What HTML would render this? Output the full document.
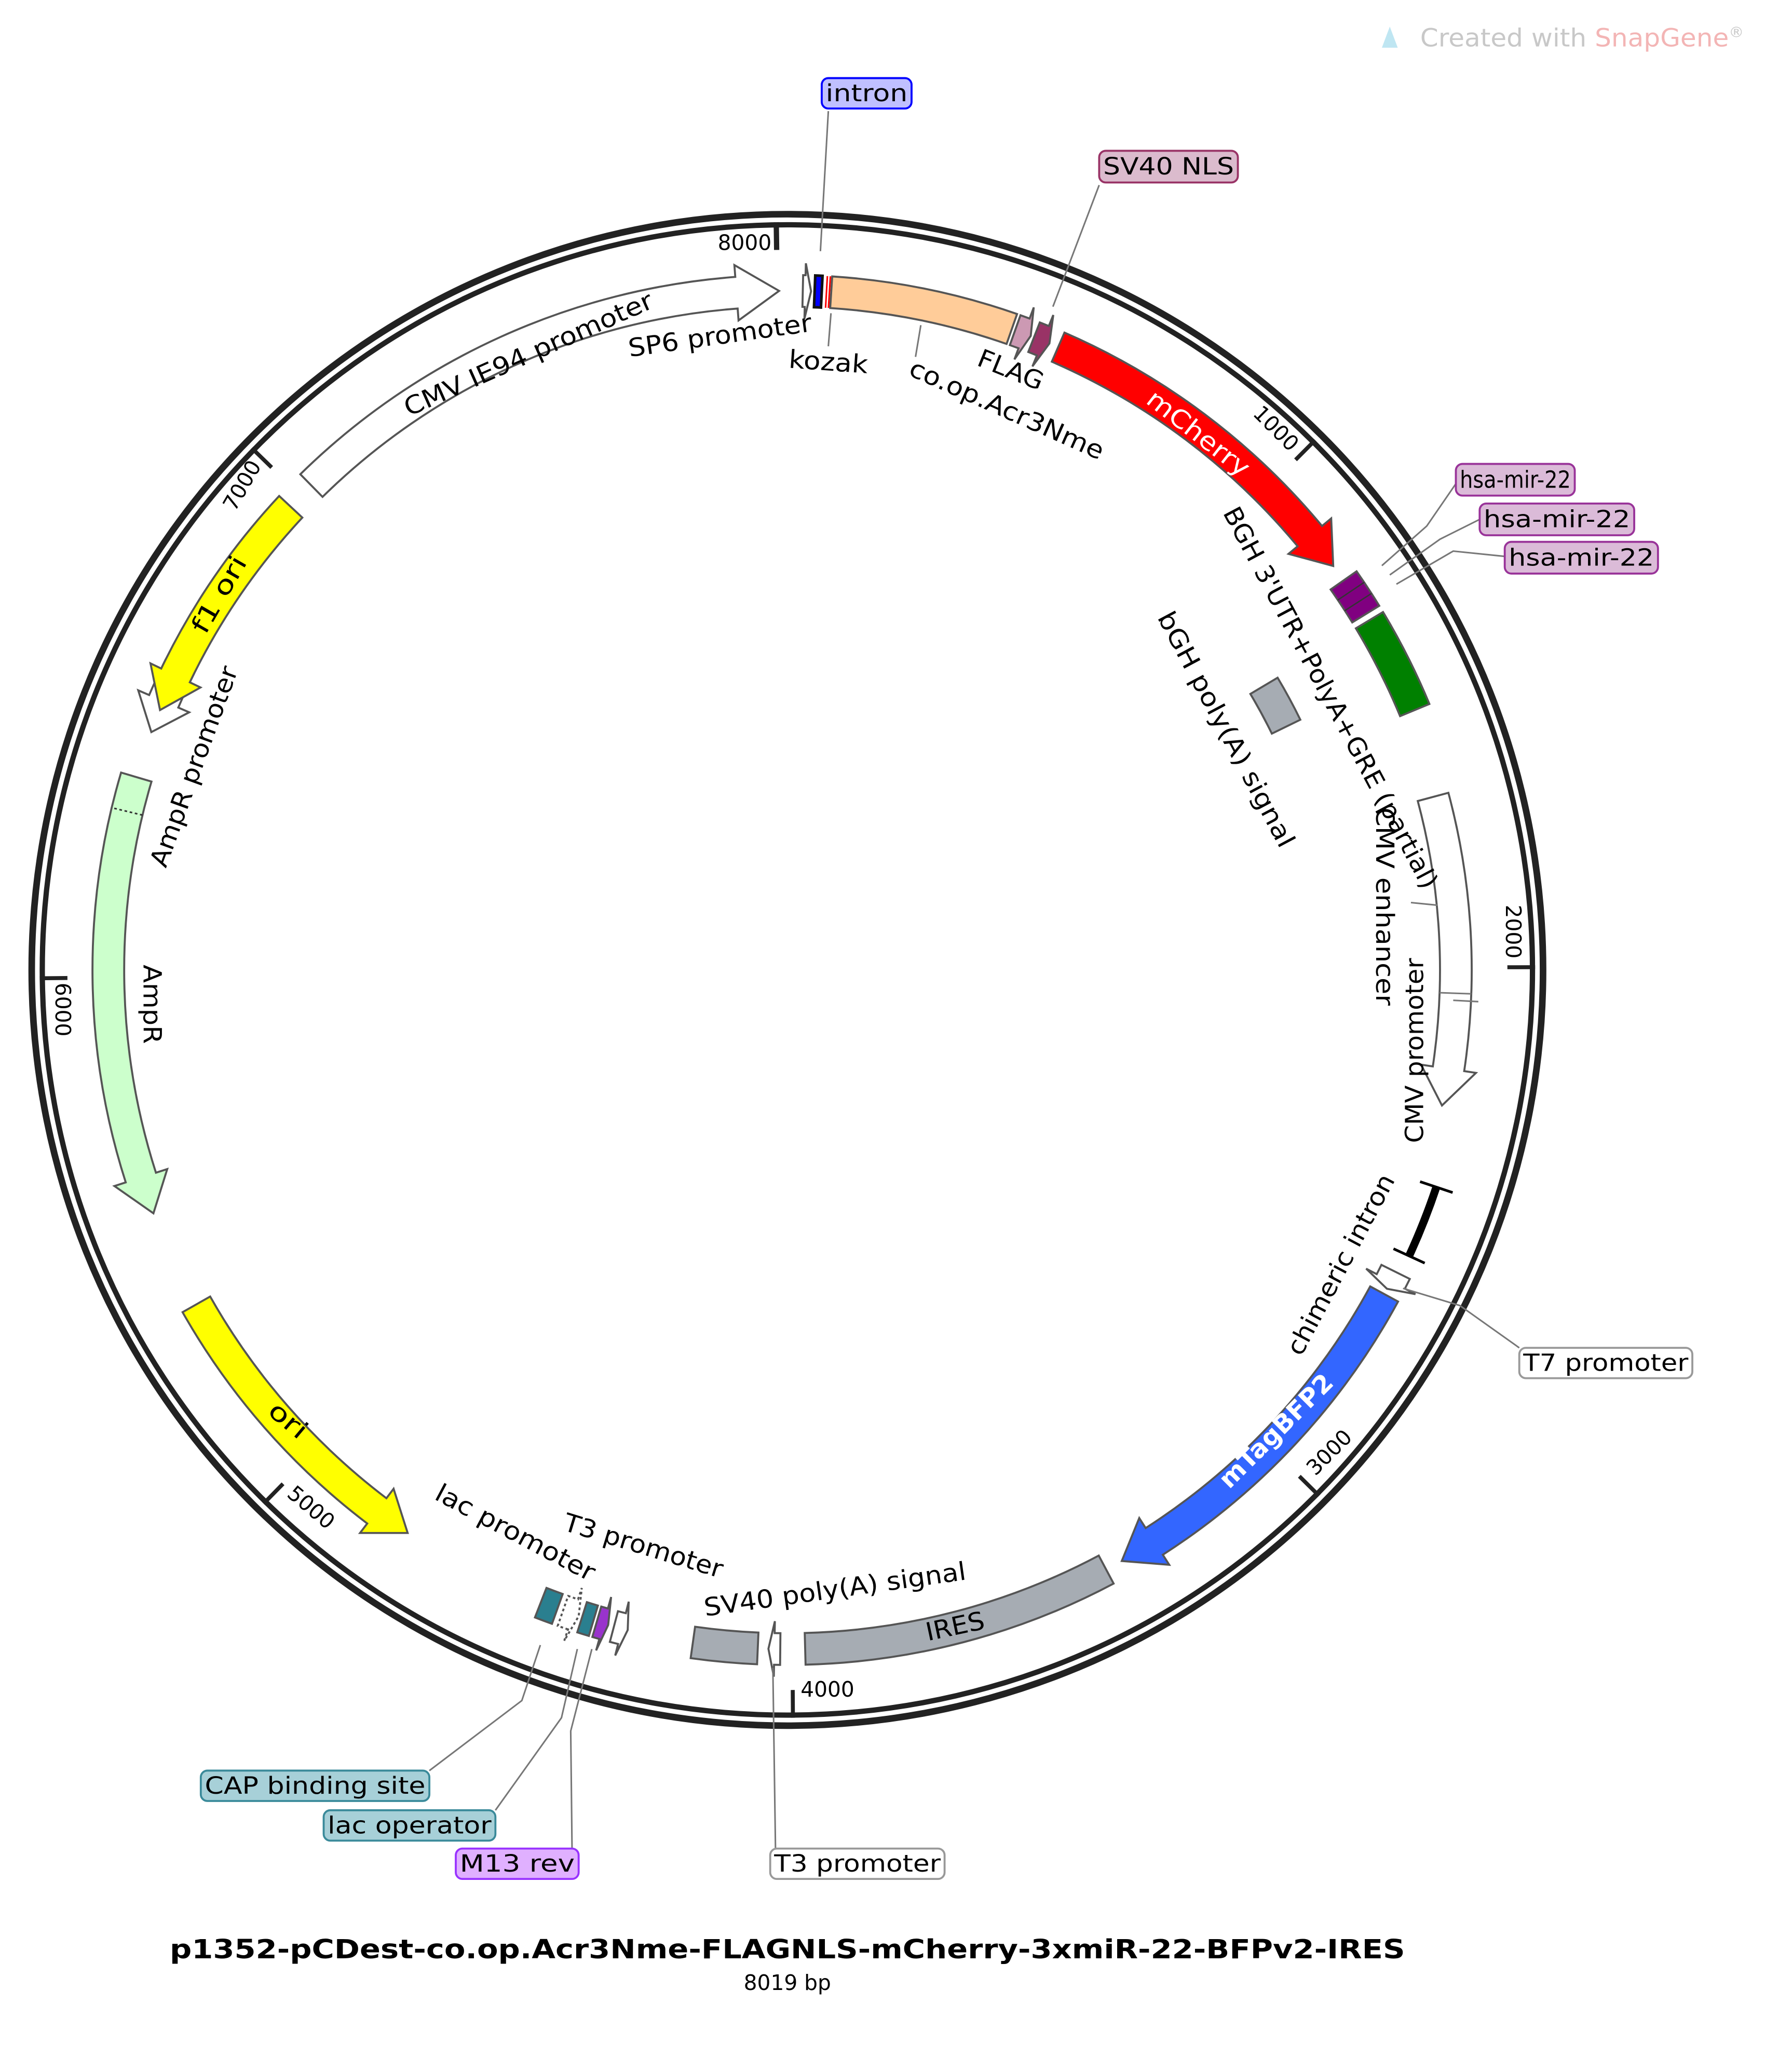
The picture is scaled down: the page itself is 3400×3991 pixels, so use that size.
<!DOCTYPE html>
<html><head><meta charset="utf-8"><style>
html,body{margin:0;padding:0;background:#fff;width:3400px;height:3991px;overflow:hidden}
svg{display:block}
text{font-family:"DejaVu Sans","Liberation Sans",sans-serif}
</style></head><body>
<svg id="s" xmlns="http://www.w3.org/2000/svg" width="3400" height="3991" viewBox="0 0 1336 1568">
<rect width="1336" height="1568" fill="#fff"/>
<g id="ring"></g>
<g id="feat"></g>
<g id="lines" stroke="#777" stroke-width="1.2" fill="none">
<polyline points="627,84 621,190"/>
<polyline points="832,140 797,232"/>
<polyline points="1102,366 1080,398 1046,428"/>
<polyline points="1120,393 1090,408 1052,435"/>
<polyline points="1139,421 1100,417 1057,442"/>
<polyline points="1150,1020 1105,988 1062,975"/>
<polyline points="587,1399 585,1262"/>
<polyline points="325,1340 395,1287 409,1245"/>
<polyline points="375,1370 425,1300 437,1248"/>
<polyline points="433,1399 432,1310 448,1248"/>
<polyline points="629,237 627,262"/>
<polyline points="697,246 693,270"/>
<polyline points="1068,683 1088,685"/>
<polyline points="1100,757 1119,758"/>
</g>
<g id="boxes" font-size="18"></g>
<g id="labels" font-size="19" fill="#000" lengthAdjust="spacingAndGlyphs">
<text x="400" y="268" transform="rotate(-24 400 268)" text-anchor="middle" dominant-baseline="central" textLength="204" lengthAdjust="spacingAndGlyphs">CMV IE94 promoter</text>
<text x="545" y="254" transform="rotate(-8 545 254)" text-anchor="middle" dominant-baseline="central" textLength="140" lengthAdjust="spacingAndGlyphs">SP6 promoter</text>
<text x="627" y="274" transform="rotate(4 627 274)" text-anchor="middle" dominant-baseline="central" textLength="60" lengthAdjust="spacingAndGlyphs">kozak</text>
<text x="765" y="280" transform="rotate(22 765 280)" text-anchor="middle" dominant-baseline="central" textLength="52" lengthAdjust="spacingAndGlyphs">FLAG</text>
<text x="762" y="310" transform="rotate(24 762 310)" text-anchor="middle" dominant-baseline="central" textLength="159" lengthAdjust="spacingAndGlyphs">co.op.Acr3Nme</text>
<text x="907" y="328" transform="rotate(38 907 328)" text-anchor="middle" dominant-baseline="central" fill="#fff" textLength="93" lengthAdjust="spacingAndGlyphs">mCherry</text>
<text x="1007" y="528" transform="rotate(62 1007 528)" text-anchor="middle" dominant-baseline="central" textLength="324" lengthAdjust="spacingAndGlyphs">BGH 3'UTR+PolyA+GRE (partial)</text>
<text x="928" y="552" transform="rotate(62 928 552)" text-anchor="middle" dominant-baseline="central" textLength="199" lengthAdjust="spacingAndGlyphs">bGH poly(A) signal</text>
<text x="1048" y="686" transform="rotate(90 1048 686)" text-anchor="middle" dominant-baseline="central" textLength="150" lengthAdjust="spacingAndGlyphs">CMV enhancer</text>
<text x="1071" y="795" transform="rotate(-90 1071 795)" text-anchor="middle" dominant-baseline="central" textLength="140" lengthAdjust="spacingAndGlyphs">CMV promoter</text>
<text x="1015" y="957" transform="rotate(-62 1015 957)" text-anchor="middle" dominant-baseline="central" textLength="152" lengthAdjust="spacingAndGlyphs">chimeric intron</text>
<text x="966" y="1083" transform="rotate(-45 966 1083)" text-anchor="middle" dominant-baseline="central" fill="#fff" font-weight="bold" textLength="113" lengthAdjust="spacingAndGlyphs">mTagBFP2</text>
<text x="723" y="1231" transform="rotate(-12 723 1231)" text-anchor="middle" dominant-baseline="central" textLength="45" lengthAdjust="spacingAndGlyphs">IRES</text>
<text x="632" y="1203" transform="rotate(-8 632 1203)" text-anchor="middle" dominant-baseline="central" textLength="200" lengthAdjust="spacingAndGlyphs">SV40 poly(A) signal</text>
<text x="487" y="1170" transform="rotate(17 487 1170)" text-anchor="middle" dominant-baseline="central" textLength="125" lengthAdjust="spacingAndGlyphs">T3 promoter</text>
<text x="390" y="1160" transform="rotate(28 390 1160)" text-anchor="middle" dominant-baseline="central" textLength="134" lengthAdjust="spacingAndGlyphs">lac promoter</text>
<text x="218" y="1075" transform="rotate(40 218 1075)" text-anchor="middle" dominant-baseline="central" textLength="32" lengthAdjust="spacingAndGlyphs">ori</text>
<text x="115" y="760" transform="rotate(90 115 760)" text-anchor="middle" dominant-baseline="central" textLength="60" lengthAdjust="spacingAndGlyphs">AmpR</text>
<text x="147" y="580" transform="rotate(-70 147 580)" text-anchor="middle" dominant-baseline="central" textLength="160" lengthAdjust="spacingAndGlyphs">AmpR promoter</text>
<text x="166" y="450" transform="rotate(-60 166 450)" text-anchor="middle" dominant-baseline="central" textLength="64" lengthAdjust="spacingAndGlyphs">f1 ori</text>
</g>
<g id="ticks" font-size="16" fill="#000">
<text x="584" y="189" text-anchor="end">8000</text>
<text x="962" y="328" transform="rotate(45 962 328)" text-anchor="middle">1000</text>
<text x="1140" y="705" transform="rotate(90 1140 705)" text-anchor="middle">2000</text>
<text x="1010" y="1103" transform="rotate(-45 1010 1103)" text-anchor="middle">3000</text>
<text x="606" y="1284" text-anchor="start">4000</text>
<text x="232" y="1145" transform="rotate(40 232 1145)" text-anchor="middle">5000</text>
<text x="42" y="764" transform="rotate(90 42 764)" text-anchor="middle">6000</text>
<text x="188" y="370" transform="rotate(-60 188 370)" text-anchor="middle">7000</text>
</g>
<text x="596" y="1482" text-anchor="middle" font-size="20" font-weight="bold" textLength="935" lengthAdjust="spacingAndGlyphs">p1352-pCDest-co.op.Acr3Nme-FLAGNLS-mCherry-3xmiR-22-BFPv2-IRES</text>
<text x="596" y="1506" text-anchor="middle" font-size="16">8019 bp</text>
<path d="M1046,36 L1052,20 L1058,36 Z" fill="#bfe6f2"/>
<text x="1075" y="35" font-size="19" fill="#c8c8c8" textLength="245" lengthAdjust="spacingAndGlyphs">Created with <tspan fill="#f3b5b5">SnapGene</tspan><tspan font-size="11" dy="-7">®</tspan></text>
</svg>
<script>
(function(){
var NS="http://www.w3.org/2000/svg";
var C={x:596,y:734};
function P(r,a){var t=a*Math.PI/180;return (C.x+r*Math.sin(t)).toFixed(2)+","+(C.y-r*Math.cos(t)).toFixed(2);}
function el(parent,tag,attrs){var e=document.createElementNS(NS,tag);for(var k in attrs)e.setAttribute(k,attrs[k]);document.getElementById(parent).appendChild(e);return e;}
function arc(r,a1,a2){var s=a2>a1?1:0,l=Math.abs(a2-a1)>180?1:0;return " A"+r+","+r+" 0 "+l+" "+s+" "+P(r,a2);}
function band(a1,a2,r1,r2,fill,dir,head,extra){
  head=head||3; var b1=a1,b2=a2,m=(r1+r2)/2,w=9;
  if(dir==="cw")b2=a2-head; if(dir==="ccw")b1=a1+head;
  var d="M"+P(r2,b1)+arc(r2,b1,b2);
  if(dir==="cw") d+=" L"+P(r2+w,b2)+" L"+P(m,a2)+" L"+P(r1-w,b2)+" L"+P(r1,b2);
  else d+=" L"+P(r1,b2);
  d+=arc(r1,b2,b1);
  if(dir==="ccw") d+=" L"+P(r1-w,b1)+" L"+P(m,a1)+" L"+P(r2+w,b1);
  d+=" Z";
  var a={d:d,fill:fill,stroke:"#555","stroke-width":1.5,"stroke-linejoin":"miter"};
  if(extra)for(var k in extra)a[k]=extra[k];
  el("feat","path",a);
}
function line(g,p1,p2,st,sw,dash){var a={d:"M"+p1+" L"+p2,stroke:st,"stroke-width":sw,fill:"none"};if(dash)a["stroke-dasharray"]=dash;el(g,"path",a);}
el("ring","circle",{cx:C.x,cy:C.y,r:572,fill:"none",stroke:"#222","stroke-width":5});
el("ring","circle",{cx:C.x,cy:C.y,r:564,fill:"none",stroke:"#222","stroke-width":4});
for(var i=1;i<=8;i++){var a=i*1000/8019*360;line("ring",P(566,a),P(545,a),"#222",i==8?4:3);}
var R1=502,R2=526;
band(315.5,359.3,R1,R2,"#fff","cw",3.6);
band(1.3,2.0,R1,R2,"#fff","cw",0.5);
band(2.3,2.9,R1,R2,"#0000ff",null,0,{stroke:"#111","stroke-width":2});
line("feat",P(R1,3.3),P(R2,3.3),"#f00",1.2);line("feat",P(R1,3.55),P(R2,3.55),"#f00",1.2);
band(3.7,19.3,R1,R2,"#ffcc99",null);
band(19.6,21.0,R1,R2,"#cc99b3","cw",0.6);
band(21.3,22.7,R1,R2,"#993366","cw",0.6);
band(23.5,53.5,R1,R2,"#ff0000","cw",3.2);
band(55.0,58.4,R1,R2,"#800080",null);
line("feat",P(R1,56.1),P(R2,56.1),"#333",1);line("feat",P(R1,57.2),P(R2,57.2),"#333",1);
band(59.0,67.5,R1,R2,"#008000",null);
band(59.2,64.0,408,432,"#a6acb3",null);
band(75,101.7,494,518,"#fff","cw",3.2);
line("feat",P(494,92),P(518,92),"#777",1.2);
el("feat","path",{d:"M"+P(518,108.5)+arc(518,108.5,114.7),stroke:"#000","stroke-width":6,fill:"none"});
line("feat",P(505,108.5),P(531,108.5),"#000",2);line("feat",P(505,114.7),P(531,114.7),"#000",2);
band(116.4,118.0,R1,R2,"#fff","cw",0.7);
band(118.5,150.5,R1,R2,"#3366ff","cw",3.2);
band(152,178.5,R1,R2,"#a6acb3",null);
band(180.6,181.6,R1,R2,"#fff","cw",0.5);
band(182.5,188.0,R1,R2,"#a6acb3",null);
band(193.6,194.8,R1,R2,"#fff","ccw",0.5);
band(195.3,196.3,R1,R2,"#9933cc","ccw",0.4);
band(196.6,197.6,R1,R2,"#2a7f8f",null);
band(197.9,199.3,R1,R2,"#fff","ccw",0.5,{"stroke-dasharray":"2,2"});
band(199.8,201.3,R1,R2,"#2a7f8f",null);
band(214,240.5,R1,R2,"#ffff00","ccw",3.2);
band(249,286.5,R1,R2,"#ccffcc","ccw",3.2);
line("feat",P(R1,283.5),P(R2,283.5),"#333",1.2,"2,2");
band(290.5,296.5,R1,R2,"#fff","ccw",2.8);
band(292.5,313,R1,R2,"#ffff00","ccw",3.2);
function box(x,y,w,h,fill,st,txt){
  el("boxes","rect",{x:x,y:y,width:w,height:h,rx:5,ry:5,fill:fill,stroke:st,"stroke-width":1.5});
  var t=el("boxes","text",{x:x+3,y:y+h/2+6,fill:"#000",textLength:w-6,lengthAdjust:"spacingAndGlyphs"});t.textContent=txt;
}
box(622,59,68,23,"#c0c0ff","#0000ff","intron");
box(832,114,105,24,"#dbbbcd","#993366","SV40 NLS");
box(1102,351,90,24,"#dbbbd8","#993399","hsa-mir-22");
box(1120,381,117,24,"#dbbbd8","#993399","hsa-mir-22");
box(1139,410,116,24,"#dbbbd8","#993399","hsa-mir-22");
box(1150,1020,131,23,"#fff","#999","T7 promoter");
box(583,1399,132,23,"#fff","#999","T3 promoter");
box(152,1340,173,23,"#a7d0d8","#3a8a9a","CAP binding site");
box(245,1370,130,23,"#a7d0d8","#3a8a9a","lac operator");
box(345,1399,93,23,"#e0b0ff","#9933ff","M13 rev");
})();
</script>
</body></html>
